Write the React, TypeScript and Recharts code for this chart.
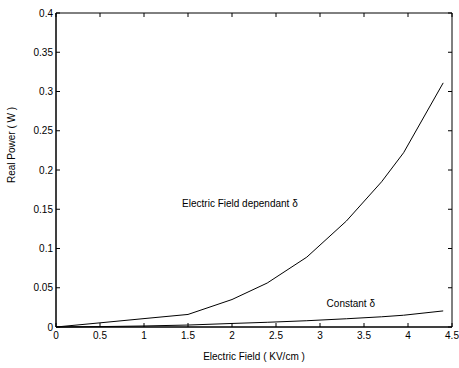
import { LineChart, Line, XAxis, YAxis, ReferenceArea, ReferenceDot, Customized } from 'recharts';

const fieldKV = [0, 0.5, 1, 1.5, 2, 2.4, 2.85, 3.3, 3.7, 3.95, 4.4];
const dependentPower = [0, 0.0053, 0.0107, 0.016, 0.035, 0.056, 0.089, 0.135, 0.185, 0.222, 0.311];
const constantPower = [0, 0.0005, 0.0013, 0.0025, 0.0045, 0.006, 0.008, 0.0105, 0.013, 0.015, 0.0205];

const xTicks = [0, 0.5, 1, 1.5, 2, 2.5, 3, 3.5, 4, 4.5];
const xTickLabels = ['0', '0.5', '1', '1.5', '2', '2.5', '3', '3.5', '4', '4.5'];
const yTicks = [0, 0.05, 0.1, 0.15, 0.2, 0.25, 0.3, 0.35, 0.4];
const yTickLabels = ['0', '0.05', '0.1', '0.15', '0.2', '0.25', '0.3', '0.35', '0.4'];

const data = fieldKV.map((x, i) => ({ x, dep: dependentPower[i], con: constantPower[i] }));

const FONT = '"Liberation Sans", Arial, Helvetica, sans-serif';
const W = 459;
const H = 368;
const LEFT = 56;
const RIGHT = 452;
const TOP = 13;
const BOTTOM = 327;
const TICK = 4;

function XTick({ x, y, payload }: any) {
  const i = xTicks.indexOf(payload.value);
  return (
    <g>
      <line x1={x} x2={x} y1={BOTTOM} y2={BOTTOM - TICK} stroke="#000" />
      <line x1={x} x2={x} y1={TOP} y2={TOP + TICK} stroke="#000" />
      <text x={x} y={y} dy="0.71em" textAnchor="middle" fontSize={10} fontFamily={FONT} fill="#000">
        {i >= 0 ? xTickLabels[i] : payload.value}
      </text>
    </g>
  );
}

function YTick({ x, y, payload }: any) {
  const i = yTicks.indexOf(payload.value);
  return (
    <g>
      <line x1={LEFT} x2={LEFT + TICK} y1={y} y2={y} stroke="#000" />
      <line x1={RIGHT} x2={RIGHT - TICK} y1={y} y2={y} stroke="#000" />
      <text x={x} y={y} dy="0.35em" textAnchor="end" fontSize={10} fontFamily={FONT} fill="#000">
        {i >= 0 ? yTickLabels[i] : payload.value}
      </text>
    </g>
  );
}

function AxisTitles() {
  return (
    <g fontFamily={FONT} fontSize={10} fill="#000">
      <text x={254} y={356} dy="0.35em" textAnchor="middle">Electric Field ( KV/cm )</text>
      <text x={11} y={145} dy="0.35em" textAnchor="middle" transform="rotate(-90 11 145)">Real Power ( W )</text>
    </g>
  );
}

export default function App() {
  return (
    <div style={{ position: 'absolute', left: 0, top: 0, width: W, height: H, background: '#fff' }}>
      <LineChart width={W} height={H} data={data} margin={{ top: TOP, right: W - RIGHT, left: 0, bottom: 0 }}>
        <XAxis
          dataKey="x"
          type="number"
          domain={[0, 4.5]}
          ticks={xTicks}
          tickSize={0}
          tickMargin={5}
          height={H - BOTTOM}
          axisLine={{ stroke: '#000' }}
          tick={<XTick />}
          interval={0}
        />
        <YAxis
          type="number"
          domain={[0, 0.4]}
          ticks={yTicks}
          tickSize={0}
          tickMargin={3}
          width={LEFT}
          axisLine={{ stroke: '#000' }}
          tick={<YTick />}
          interval={0}
        />
        <ReferenceArea x1={0} x2={4.5} y1={0} y2={0.4} fill="none" stroke="#000" strokeWidth={1} ifOverflow="visible" />
        <Line dataKey="dep" stroke="#000" strokeWidth={1} dot={false} isAnimationActive={false} />
        <Line dataKey="con" stroke="#000" strokeWidth={1} dot={false} isAnimationActive={false} />
        <ReferenceDot
          x={2.09}
          y={0.157}
          r={0}
          fill="none"
          stroke="none"
          label={{ value: 'Electric Field dependant δ', position: 'center', fontSize: 10, fontFamily: FONT, fill: '#000' }}
        />
        <ReferenceDot
          x={3.35}
          y={0.0306}
          r={0}
          fill="none"
          stroke="none"
          label={{ value: 'Constant δ', position: 'center', fontSize: 10, fontFamily: FONT, fill: '#000' }}
        />
        <Customized component={<AxisTitles />} />
      </LineChart>
    </div>
  );
}
